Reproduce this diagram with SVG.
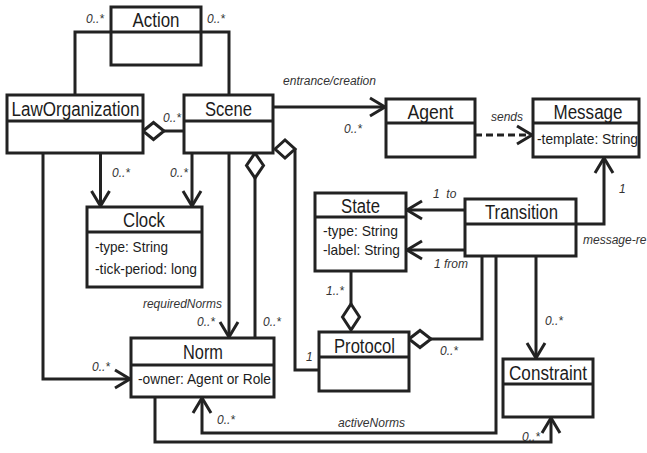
<svg xmlns="http://www.w3.org/2000/svg" width="647" height="453" viewBox="0 0 647 453">
<style>
.box{fill:#fff;stroke:#222;stroke-width:3}
.div{stroke:#222;stroke-width:3}
.ln{fill:none;stroke:#222;stroke-width:3}
.dash{fill:none;stroke:#222;stroke-width:3;stroke-dasharray:7 4}
.dia{fill:#fff;stroke:#222;stroke-width:3}
.t{font-family:"Liberation Sans",Arial,sans-serif;font-size:20px;fill:#1c1c1c;text-anchor:middle}
.a{font-family:"Liberation Sans",Arial,sans-serif;font-size:15px;fill:#1c1c1c}
.l{font-family:"Liberation Sans",Arial,sans-serif;font-size:12px;font-style:italic;fill:#333}
</style>
<defs>
<marker id="arr" markerUnits="userSpaceOnUse" viewBox="-20 -12 24 24" markerWidth="24" markerHeight="24" refX="0" refY="0" orient="auto" overflow="visible">
<path d="M-16,-9 L-1,0 L-16,9" fill="none" stroke="#222" stroke-width="3"/>
</marker>
</defs>
<rect width="647" height="453" fill="#fff"/>
<g id="connectors">
<polyline class="ln" points="75,95 75,32 111,32"/>
<polyline class="ln" points="229,95 229,32 201,32"/>
<line class="ln" x1="164" y1="131" x2="184" y2="131"/>
<polygon class="dia" points="143,131 153.5,122.5 164,131 153.5,139.5"/>
<line class="ln" x1="100.5" y1="153" x2="100.5" y2="207" marker-end="url(#arr)"/>
<line class="ln" x1="192" y1="153" x2="192" y2="207" marker-end="url(#arr)"/>
<polyline class="ln" points="43,153 43,379 131,379" marker-end="url(#arr)"/>
<line class="ln" x1="229" y1="153" x2="229" y2="338" marker-end="url(#arr)"/>
<line class="ln" x1="255" y1="178" x2="255" y2="338"/>
<polygon class="dia" points="255,153 263.5,165.5 255,178 246.5,165.5"/>
<polyline class="ln" points="295,149 295,370 319,370"/>
<polygon class="dia" points="275,149 285,140 295,149 285,158"/>
<line class="ln" x1="273" y1="107" x2="386" y2="107" marker-end="url(#arr)"/>
<line class="dash" x1="475" y1="135" x2="533" y2="135" marker-end="url(#arr)"/>
<line class="ln" x1="465" y1="210" x2="406" y2="210" marker-end="url(#arr)"/>
<line class="ln" x1="465" y1="250" x2="406" y2="250" marker-end="url(#arr)"/>
<line class="ln" x1="351" y1="271" x2="351" y2="304"/>
<polygon class="dia" points="351,304 359.5,317 351,330 342.5,317"/>
<polyline class="ln" points="431,339 482,339 482,256"/>
<polygon class="dia" points="409,339 420,330.5 431,339 420,347.5"/>
<line class="ln" x1="536" y1="256" x2="536" y2="359" marker-end="url(#arr)"/>
<polyline class="ln" points="496,256 496,433 202,433 202,397" marker-end="url(#arr)"/>
<polyline class="ln" points="155,397 155,442 551,442 551,417" marker-end="url(#arr)"/>
<polyline class="ln" points="576,224 604,224 604,157" marker-end="url(#arr)"/>
<text class="l" x="86" y="23">0..*</text>
<text class="l" x="207" y="23">0..*</text>
<text class="l" x="163" y="122">0..*</text>
<text class="l" x="112" y="177">0..*</text>
<text class="l" x="170" y="177">0..*</text>
<text class="l" x="283" y="85" textLength="93" lengthAdjust="spacingAndGlyphs">entrance/creation</text>
<text class="l" x="344" y="133">0..*</text>
<text class="l" x="491" y="121">sends</text>
<text class="l" x="433" y="198" xml:space="preserve">1  to</text>
<text class="l" x="434" y="268">1 from</text>
<text class="l" x="326" y="295">1..*</text>
<text class="l" x="440" y="355">0..*</text>
<text class="l" x="545" y="325">0..*</text>
<text class="l" x="306" y="361">1</text>
<text class="l" x="619" y="193">1</text>
<text class="l" x="583" y="244">message-re</text>
<text class="l" x="143" y="308" textLength="79" lengthAdjust="spacingAndGlyphs">requiredNorms</text>
<text class="l" x="197" y="326">0..*</text>
<text class="l" x="263" y="326">0..*</text>
<text class="l" x="92" y="371">0..*</text>
<text class="l" x="217" y="424">0..*</text>
<text class="l" x="338" y="427" textLength="67" lengthAdjust="spacingAndGlyphs">activeNorms</text>
<text class="l" x="522" y="441">0..*</text>
</g>
<g id="Action">
<rect class="box" x="111" y="7" width="90" height="58"/>
<line class="div" x1="111" y1="32" x2="201" y2="32"/>
<text class="t" x="156" y="27" textLength="47" lengthAdjust="spacingAndGlyphs">Action</text>
</g>
<g id="LawOrganization">
<rect class="box" x="7" y="95" width="136" height="58"/>
<line class="div" x1="7" y1="121" x2="143" y2="121"/>
<text class="t" x="75.5" y="116" textLength="128" lengthAdjust="spacingAndGlyphs">LawOrganization</text>
</g>
<g id="Scene">
<rect class="box" x="184" y="95" width="89" height="58"/>
<line class="div" x1="184" y1="121" x2="273" y2="121"/>
<text class="t" x="228.5" y="116" textLength="47" lengthAdjust="spacingAndGlyphs">Scene</text>
</g>
<g id="Clock">
<rect class="box" x="87" y="207" width="115" height="80"/>
<line class="div" x1="87" y1="232" x2="202" y2="232"/>
<text class="t" x="144" y="227" textLength="42" lengthAdjust="spacingAndGlyphs">Clock</text>
<text class="a" x="95" y="252" textLength="73" lengthAdjust="spacingAndGlyphs">-type: String</text>
<text class="a" x="95" y="274" textLength="102" lengthAdjust="spacingAndGlyphs">-tick-period: long</text>
</g>
<g id="Agent">
<rect class="box" x="386" y="99" width="89" height="58"/>
<line class="div" x1="386" y1="123" x2="475" y2="123"/>
<text class="t" x="430.5" y="119" textLength="46" lengthAdjust="spacingAndGlyphs">Agent</text>
</g>
<g id="Message">
<rect class="box" x="533" y="99" width="106" height="58"/>
<line class="div" x1="533" y1="123" x2="639" y2="123"/>
<text class="t" x="588" y="119" textLength="69" lengthAdjust="spacingAndGlyphs">Message</text>
<text class="a" x="537" y="144" textLength="101" lengthAdjust="spacingAndGlyphs">-template: String</text>
</g>
<g id="State">
<rect class="box" x="315" y="193" width="91" height="78"/>
<line class="div" x1="315" y1="217" x2="406" y2="217"/>
<text class="t" x="360.5" y="213" textLength="39" lengthAdjust="spacingAndGlyphs">State</text>
<text class="a" x="323" y="236" textLength="75" lengthAdjust="spacingAndGlyphs">-type: String</text>
<text class="a" x="323" y="255" textLength="77" lengthAdjust="spacingAndGlyphs">-label: String</text>
</g>
<g id="Transition">
<rect class="box" x="465" y="199" width="111" height="57"/>
<line class="div" x1="465" y1="224" x2="576" y2="224"/>
<text class="t" x="521.5" y="219" textLength="73" lengthAdjust="spacingAndGlyphs">Transition</text>
</g>
<g id="Protocol">
<rect class="box" x="319" y="332" width="90" height="59"/>
<line class="div" x1="319" y1="357" x2="409" y2="357"/>
<text class="t" x="364.5" y="353" textLength="61" lengthAdjust="spacingAndGlyphs">Protocol</text>
</g>
<g id="Constraint">
<rect class="box" x="503" y="359" width="90" height="58"/>
<line class="div" x1="503" y1="384" x2="593" y2="384"/>
<text class="t" x="548" y="380" textLength="78" lengthAdjust="spacingAndGlyphs">Constraint</text>
</g>
<g id="Norm">
<rect class="box" x="131" y="338" width="143" height="59"/>
<line class="div" x1="131" y1="365" x2="274" y2="365"/>
<text class="t" x="203" y="359" textLength="40" lengthAdjust="spacingAndGlyphs">Norm</text>
<text class="a" x="138" y="384" textLength="133" lengthAdjust="spacingAndGlyphs">-owner: Agent or Role</text>
</g>
</svg>
